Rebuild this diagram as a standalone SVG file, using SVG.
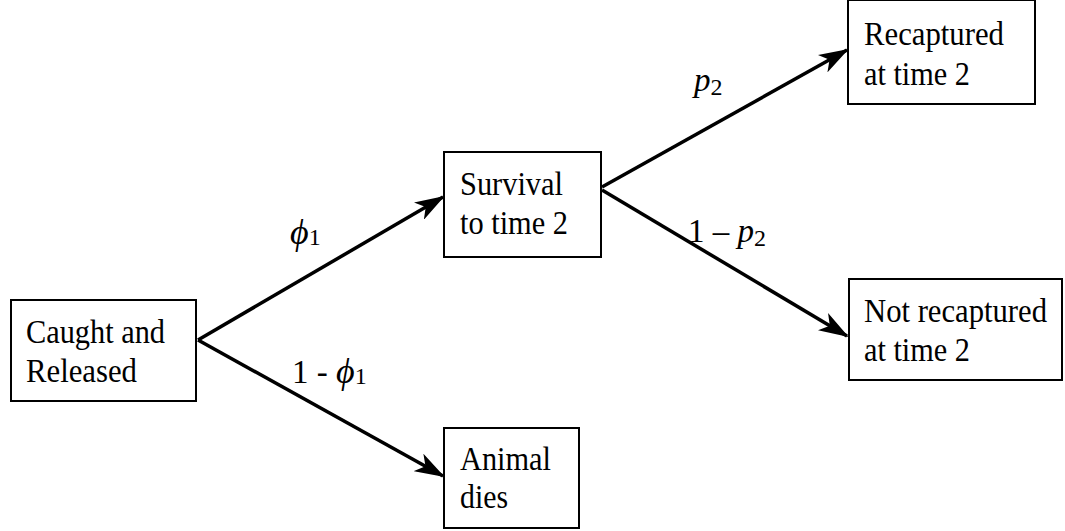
<svg xmlns="http://www.w3.org/2000/svg" width="1065" height="531" viewBox="0 0 1065 531">
<defs>
<marker id="ah" viewBox="0 0 30 20" refX="28" refY="10" markerWidth="30" markerHeight="20" markerUnits="userSpaceOnUse" orient="auto">
<path d="M0,0 L30,10 L0,20 L8,10 Z" fill="#000"/>
</marker>
</defs>
<rect width="1065" height="531" fill="#fff"/>
<g id="connectors" stroke="#000" stroke-width="3.5" fill="none" marker-end="url(#ah)">
<line x1="198" y1="340" x2="443" y2="197"/>
<line x1="198" y1="340" x2="443" y2="476"/>
<line x1="602" y1="187" x2="847" y2="50"/>
<line x1="602" y1="190" x2="847" y2="336"/>
</g>
<g id="labels" fill="#000">
<text font-family="Liberation Serif" x="290" y="244" font-style="italic" font-size="36">&#981;<tspan font-size="24" font-style="normal" dy="1">1</tspan></text>
<text font-family="Liberation Serif" font-size="33" x="292" y="383">1 - <tspan font-style="italic" font-size="36">&#981;</tspan><tspan font-size="24" dy="1">1</tspan></text>
<text font-family="Liberation Serif" font-size="33" x="694" y="91" font-style="italic">p<tspan font-size="24" font-style="normal" dy="4">2</tspan></text>
<text font-family="Liberation Serif" font-size="33" x="688" y="242">1 &#8211; <tspan font-style="italic">p</tspan><tspan font-size="24" dy="4">2</tspan></text>
</g>
<g id="caught">
<rect fill="#fff" stroke="#000" stroke-width="2" x="11" y="300" width="185" height="101"/>
<text font-family="Liberation Serif" font-size="33" x="26" y="343" textLength="139" lengthAdjust="spacingAndGlyphs">Caught and</text>
<text font-family="Liberation Serif" font-size="33" x="26" y="382" textLength="111" lengthAdjust="spacingAndGlyphs">Released</text>
</g>
<g id="survival">
<rect fill="#fff" stroke="#000" stroke-width="2" x="444" y="152" width="157" height="105"/>
<text font-family="Liberation Serif" font-size="33" x="460" y="195" textLength="103" lengthAdjust="spacingAndGlyphs">Survival</text>
<text font-family="Liberation Serif" font-size="33" x="460" y="234" textLength="108" lengthAdjust="spacingAndGlyphs">to time 2</text>
</g>
<g id="recaptured">
<rect fill="#fff" stroke="#000" stroke-width="2" x="848" y="0" width="187" height="104"/>
<text font-family="Liberation Serif" font-size="33" x="864" y="45" textLength="140" lengthAdjust="spacingAndGlyphs">Recaptured</text>
<text font-family="Liberation Serif" font-size="33" x="864" y="85" textLength="106" lengthAdjust="spacingAndGlyphs">at time 2</text>
</g>
<g id="notrecaptured">
<rect fill="#fff" stroke="#000" stroke-width="2" x="849" y="279" width="213" height="101"/>
<text font-family="Liberation Serif" font-size="33" x="864" y="322" textLength="183" lengthAdjust="spacingAndGlyphs">Not recaptured</text>
<text font-family="Liberation Serif" font-size="33" x="864" y="361" textLength="106" lengthAdjust="spacingAndGlyphs">at time 2</text>
</g>
<g id="dies">
<rect fill="#fff" stroke="#000" stroke-width="2" x="444" y="428" width="135" height="100"/>
<text font-family="Liberation Serif" font-size="33" x="460" y="470" textLength="91" lengthAdjust="spacingAndGlyphs">Animal</text>
<text font-family="Liberation Serif" font-size="33" x="460" y="508" textLength="48" lengthAdjust="spacingAndGlyphs">dies</text>
</g>
</svg>
